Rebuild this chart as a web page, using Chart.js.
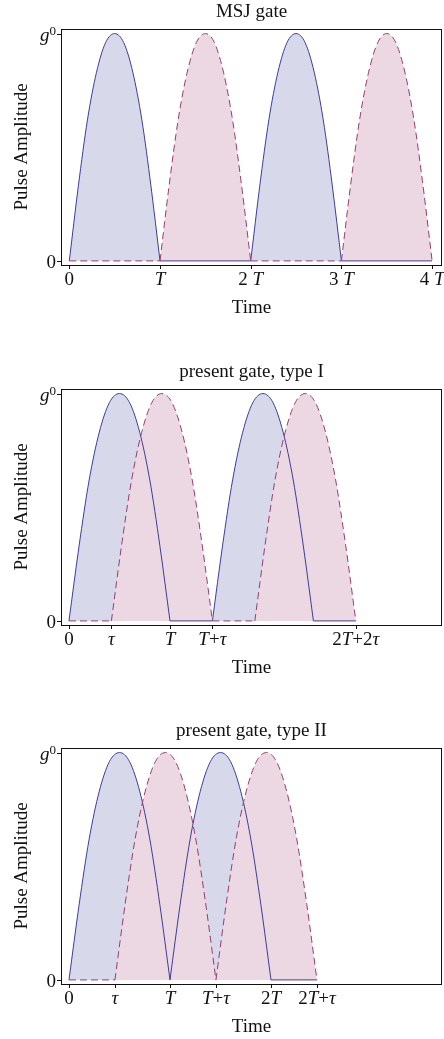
<!DOCTYPE html>
<html lang="en">
<head>
<meta charset="UTF-8">
<title>pulse sequences</title>
<script src="https://cdn.jsdelivr.net/npm/chart.js"></script>
<style>
  body { margin: 0; background: #fff; }
  canvas { position: absolute; left: 0; }
</style>
</head>
<body>
<canvas id="c1" width="444" height="340" style="top:0px"></canvas>
<canvas id="c2" width="444" height="350" style="top:340px"></canvas>
<canvas id="c3" width="444" height="349" style="top:690px"></canvas>
<script>
// pulse height (fraction of g0) read at 0, 0.1T, 0.2T ... T
const pulseShape = [0, 0.33, 0.62, 0.83, 0.96, 1, 0.96, 0.83, 0.62, 0.33, 0];

// MSJ gate, time in units of T
const msjBlueStarts = [0, 2];
const msjRedStarts = [1, 3];
const msjBlueIdle = [[1, 2], [3, 4]];
const msjRedIdle = [[0, 1], [2, 3]];
const msjTicks = [0, 1, 2, 3, 4];
const msjTickLabels = ['0', 'T', '2 T', '3 T', '4 T'];

// present gate, type I (tau ~ 0.42 T)
const t1BlueStarts = [0, 1.42];
const t1RedStarts = [0.42, 1.84];
const t1BlueIdle = [[1, 1.42], [2.42, 2.84]];
const t1RedIdle = [[0, 0.42], [1.42, 1.84]];
const t1Ticks = [0, 0.42, 1, 1.42, 2.84];
const t1TickLabels = ['0', 'τ', 'T', 'T+τ', '2T+2τ'];

// present gate, type II (tau ~ 0.455 T)
const t2BlueStarts = [0, 1];
const t2RedStarts = [0.455, 1.455];
const t2BlueIdle = [[2, 2.455]];
const t2RedIdle = [[0, 0.455]];
const t2Ticks = [0, 0.455, 1, 1.455, 2, 2.455];
const t2TickLabels = ['0', 'τ', 'T', 'T+τ', '2T', '2T+τ'];

const yTicks = [0, 1];
const yTickLabels = ['0', 'g⁰'];

const BLUE = '#3d3d99';
const RED = '#993d6b';
const BLUE_FILL = '#d8d8eb';
const RED_FILL = '#ebd8e2';
const FONT = '"Liberation Serif", "Times New Roman", serif';

function pulsePoints(start) {
    let pts = [];
    for (let i = 0; i < pulseShape.length; i++) {
        pts.push({x: start + i / (pulseShape.length - 1), y: pulseShape[i]});
    }
    return pts;
}

function buildSets(blueStarts, redStarts, blueIdle, redIdle) {
    let sets = [];
    blueStarts.forEach(s => sets.push({data: pulsePoints(s), borderColor: BLUE, backgroundColor: BLUE_FILL, fill: 'origin', order: 2}));
    blueIdle.forEach(g => sets.push({data: [{x: g[0], y: 0}, {x: g[1], y: 0}], borderColor: BLUE, fill: false, order: 2}));
    redStarts.forEach(s => sets.push({data: pulsePoints(s), borderColor: RED, backgroundColor: RED_FILL, fill: 'origin', borderDash: [7, 4], order: 1}));
    redIdle.forEach(g => sets.push({data: [{x: g[0], y: 0}, {x: g[1], y: 0}], borderColor: RED, fill: false, borderDash: [7, 4], order: 1}));
    return sets;
}

// draws text where T, tau and g are italic and ⁰ is a raised small 0
function drawRich(ctx, text, x, y, align) {
    let parts = [];
    let total = 0;
    for (const ch of text) {
        let p = {ch: ch, font: '19px ' + FONT, dy: 0};
        if ('Tτg'.includes(ch)) p.font = 'italic 19px ' + FONT;
        if (ch === '⁰') { p.ch = '0'; p.font = '13px ' + FONT; p.dy = -6; }
        ctx.font = p.font;
        p.w = ctx.measureText(p.ch).width;
        total += p.w;
        parts.push(p);
    }
    let cx = x;
    if (align === 'center') cx = x - total / 2;
    if (align === 'right') cx = x - total;
    ctx.textAlign = 'left';
    ctx.textBaseline = 'alphabetic';
    parts.forEach(p => {
        ctx.font = p.font;
        ctx.fillText(p.ch, cx, y + p.dy);
        cx += p.w;
    });
}

const framePlugin = {
    id: 'frame',
    afterDraw(chart) {
        const o = chart.options.plugins.frame;
        const ctx = chart.ctx;
        const a = chart.chartArea;
        const xs = chart.scales.x, ys = chart.scales.y;
        ctx.save();
        ctx.strokeStyle = '#111';
        ctx.fillStyle = '#111';
        ctx.lineWidth = 1;
        ctx.strokeRect(a.left + 0.5, a.top + 0.5, a.right - a.left - 1, a.bottom - a.top);

        ctx.beginPath();
        o.ticks.forEach(v => {
            let px = Math.round(xs.getPixelForValue(v)) + 0.5;
            ctx.moveTo(px, a.bottom);
            ctx.lineTo(px, a.bottom + 4);
        });
        yTicks.forEach(v => {
            let py = Math.round(ys.getPixelForValue(v)) + 0.5;
            ctx.moveTo(a.left - 4, py);
            ctx.lineTo(a.left, py);
        });
        ctx.stroke();

        o.ticks.forEach((v, i) => {
            drawRich(ctx, o.labels[i], xs.getPixelForValue(v), a.bottom + 20, 'center');
        });
        yTicks.forEach((v, i) => {
            let py = ys.getPixelForValue(v);
            drawRich(ctx, yTickLabels[i], a.left - 5, py + 7, 'right');
        });

        let mid = (a.left + a.right) / 2;
        ctx.font = '19px ' + FONT;
        ctx.textAlign = 'center';
        ctx.textBaseline = 'middle';
        ctx.fillText(o.title, mid, a.top - 16.5);
        ctx.fillText('Time', mid, a.bottom + 43);
        ctx.translate(22, (a.top + a.bottom) / 2);
        ctx.rotate(-Math.PI / 2);
        ctx.fillText('Pulse Amplitude', 0, 0);
        ctx.restore();
    }
};

function makeChart(id, sets, xMin, xMax, pad, title, ticks, labels) {
    return new Chart(document.getElementById(id), {
        type: 'line',
        data: {datasets: sets},
        options: {
            responsive: false,
            animation: false,
            devicePixelRatio: 1,
            layout: {padding: pad},
            datasets: {
                line: {borderWidth: 1, pointRadius: 0, cubicInterpolationMode: 'monotone'}
            },
            scales: {
                x: {type: 'linear', min: xMin, max: xMax, display: false},
                y: {type: 'linear', min: -0.018, max: 1.02, display: false}
            },
            plugins: {
                legend: {display: false},
                tooltip: {enabled: false},
                filler: {drawTime: 'beforeDatasetsDraw'},
                frame: {title: title, ticks: ticks, labels: labels}
            }
        },
        plugins: [framePlugin]
    });
}

makeChart('c1', buildSets(msjBlueStarts, msjRedStarts, msjBlueIdle, msjRedIdle),
    -0.0915, 4.109, {top: 29, bottom: 75, left: 61, right: 2}, 'MSJ gate', msjTicks, msjTickLabels);
makeChart('c2', buildSets(t1BlueStarts, t1RedStarts, t1BlueIdle, t1RedIdle),
    -0.079, 3.693, {top: 49, bottom: 65, left: 61, right: 2}, 'present gate, type I', t1Ticks, t1TickLabels);
makeChart('c3', buildSets(t2BlueStarts, t2RedStarts, t2BlueIdle, t2RedIdle),
    -0.079, 3.693, {top: 58, bottom: 55, left: 61, right: 2}, 'present gate, type II', t2Ticks, t2TickLabels);
</script>
</body>
</html>
